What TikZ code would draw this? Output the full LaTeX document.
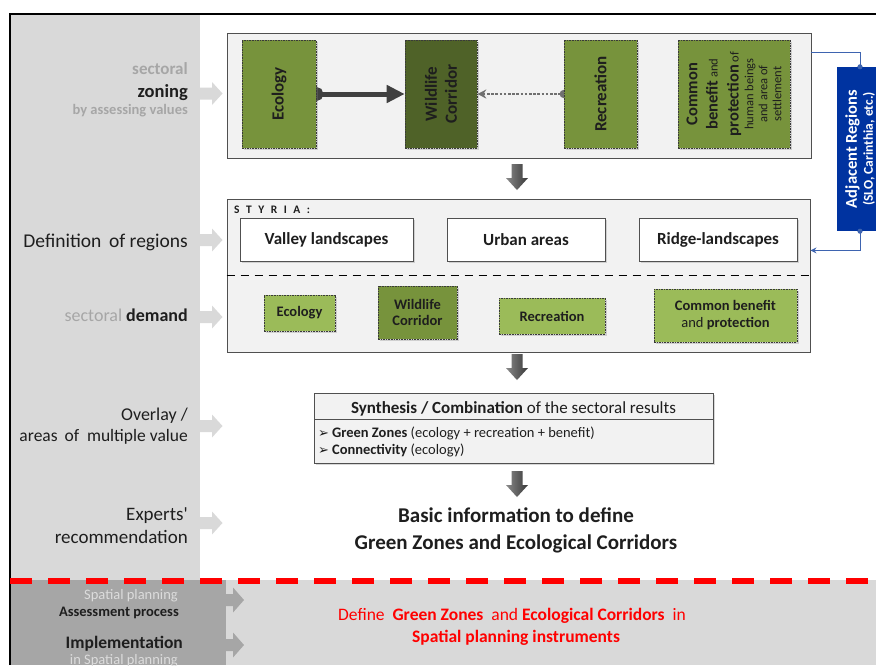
\documentclass[tikz,border=0pt]{standalone}
\usepackage{fontspec}
\setmainfont{Carlito}
\newfontfamily\symfont{DejaVu Sans}
\usetikzlibrary{arrows.meta,shadows,calc}
\pgfdeclarelayer{back}
\pgfdeclarelayer{mid}
\pgfsetlayers{back,mid,main}
\definecolor{panel}{HTML}{D9D9D9}
\definecolor{darkpanel}{HTML}{A6A6A6}
\definecolor{boxfill}{HTML}{F2F2F2}
\definecolor{boxline}{HTML}{505050}
\definecolor{gOlive}{HTML}{77933C}
\definecolor{gDark}{HTML}{4F6228}
\definecolor{gLight}{HTML}{9BBB59}
\definecolor{gborder}{HTML}{3A3A3A}
\definecolor{adjblue}{HTML}{0033A0}
\definecolor{adjc}{HTML}{3E64B0}
\definecolor{txt}{HTML}{1E1E1E}
\definecolor{graytxt}{HTML}{A6A6A6}
\definecolor{lighttxt}{HTML}{DCDCDC}
\definecolor{conn}{HTML}{404040}
\definecolor{dotc}{HTML}{707070}
\definecolor{arrL}{HTML}{8A8A8A}
\definecolor{arrR}{HTML}{383838}
\definecolor{redc}{HTML}{FF0000}
\newcommand\fsz[2]{\fontsize{#1}{#2}\selectfont}
\tikzset{
  bigbox/.style={draw=boxline, fill=boxfill, line width=0.9pt, inner sep=0pt},
  shad/.style={drop shadow={opacity=0.3, shadow xshift=1.5pt, shadow yshift=-1.5pt}},
  gbox/.style={draw=gborder, line width=0.6pt, dash pattern=on 1.6pt off 1pt, inner sep=0pt, shad, text=txt},
  wbox/.style={draw=boxline, fill=white, line width=0.9pt, inner sep=0pt, shad, text=txt, font=\bfseries\fsz{17}{20}},
  lab/.style={anchor=base east, inner sep=0pt},
  ctr/.style={anchor=base, inner sep=0pt},
  adjline/.style={draw=adjc, line width=0.9pt},
  dnarr/.pic={\shade[left color=arrL, right color=arrR] (-5.5,0) -- (5.5,0) -- (5.5,14) -- (11,14) -- (0,26) -- (-11,14) -- (-5.5,14) -- cycle;}
}
\begin{document}
\begin{tikzpicture}[x=1pt,y=-1pt]
\useasboundingbox (0,0) rectangle (876,665);
\begin{pgfonlayer}{back}
  \fill[white] (0,0) rectangle (876,665);
  \fill[panel] (11,15) rectangle (200,580);
  \fill[panel] (11,580) rectangle (876,665);
  \fill[darkpanel] (11,580) rectangle (226,665);
  \node[bigbox, minimum width=584pt, minimum height=125pt] (top) at (519,95.5) {};
  \node[bigbox, minimum width=583pt, minimum height=153pt] (mid) at (518.5,275.5) {};
\end{pgfonlayer}

% frame and red separator
\draw[line width=2pt] (10,665) -- (10,14) -- (876,14);
\draw[redc, line width=5.5pt, dash pattern=on 22pt off 16pt] (10,581) -- (876,581);

% side arrows
\foreach \yy in {93.5,240,317,426,523}
  \fill[panel] (200,{\yy-6}) -- (212,{\yy-6}) -- (212,{\yy-11.5}) -- (222.5,\yy) -- (212,{\yy+11.5}) -- (212,{\yy+6}) -- (200,{\yy+6}) -- cycle;
\foreach \yy in {600,645}
  \fill[darkpanel] (226,{\yy-6}) -- (233,{\yy-6}) -- (233,{\yy-12.5}) -- (244,\yy) -- (233,{\yy+12.5}) -- (233,{\yy+6}) -- (226,{\yy+6}) -- cycle;

% left labels
\node[lab, font=\bfseries\fsz{17}{20}, text=graytxt] at (188,74) {sectoral};
\node[lab, font=\bfseries\fsz{18.5}{20}, text=txt] at (188,97) {zoning};
\node[lab, font=\bfseries\fsz{14.5}{16}, text=graytxt] at (188,114) {by assessing values};
\node[lab, font=\fsz{19.5}{22}, text=txt] at (188,247) {Definition\ \,of regions};
\node[lab, font=\fsz{18}{22}, text=txt] at (188,321) {{\color{graytxt}sectoral} \textbf{demand}};
\node[lab, font=\fsz{18}{22}, text=txt] at (188,420) {Overlay /};
\node[lab, font=\fsz{17.5}{22}, text=txt] at (188,441) {areas\ \,of\ \ multiple value};
\node[lab, font=\fsz{19}{22}, text=txt] at (188,520) {Experts\textquotesingle};
\node[lab, font=\fsz{19}{22}, text=txt] at (188,543) {recommendation};
\node[lab, font=\fsz{14.5}{16}, text=lighttxt] at (178,599) {Spatial planning};
\node[lab, font=\bfseries\fsz{14.5}{16}, text=txt] at (179,616) {Assessment process};
\node[lab, font=\bfseries\fsz{17.5}{20}, text=txt] at (183,648) {Implementation};
\node[lab, font=\fsz{14.5}{16}, text=lighttxt] at (178,664) {in Spatial planning};

% top row boxes
\node[gbox, fill=gOlive, minimum width=74pt, minimum height=108pt] (eco) at (279,94) {};
\node[gbox, fill=gDark, minimum width=72pt, minimum height=108pt] (wild) at (441,94) {};
\node[gbox, fill=gOlive, minimum width=73pt, minimum height=108pt] (rec) at (600.5,94) {};
\node[gbox, fill=gOlive, minimum width=112pt, minimum height=108pt] (com) at (734,94) {};
\node[rotate=90, font=\bfseries\fsz{17}{19}, text=txt] at (eco) {Ecology};
\node[rotate=90, font=\bfseries\fsz{17}{20}, text=txt, align=center] at (wild) {Wildlife\\Corridor};
\node[rotate=90, font=\bfseries\fsz{17}{19}, text=txt] at (rec) {Recreation};
\node[rotate=90, font=\fsz{12.5}{14}, text=txt, align=center] at (com)
  {{\bfseries\fsz{16.5}{14}Common}\\[6.4pt]
   {\bfseries\fsz{16.5}{14}benefit} and\\[7pt]
   {\bfseries\fsz{16.5}{14}protection} of\\[0.7pt]
   human beings\\ and area of\\ settlement};

\begin{pgfonlayer}{mid}
  \draw[line width=5pt, draw=conn, {Circle[length=14pt]}-{Triangle[length=18pt,width=17pt]}, shorten <=-7pt] (eco.east) -- (wild.west);
  \draw[line width=2.8pt, draw=dotc, dash pattern=on 2.6pt off 1.6pt, {Stealth[length=9pt,width=9pt]}-{Circle[length=8pt]}, shorten >=-4pt] (wild.east) -- (rec.west);
\end{pgfonlayer}

% adjacent regions
\node[fill=adjblue, minimum width=46pt, minimum height=164pt, inner sep=0pt] (adj) at (860,149) {};
\node[rotate=90, align=center, text=white, font=\bfseries\fsz{13.5}{16}] at (adj)
  {{\fsz{16.5}{16}Adjacent Regions}\\(SLO, Carinthia, etc.)};
\draw[adjline, -{Circle[length=5pt]}, shorten >=-2.5pt] ($(top.north east)!0.16!(top.south east)$) -| (adj.north);
\draw[adjline, {Circle[length=5pt]}-{Stealth[length=6pt,width=6pt]}, shorten <=-2.5pt] (adj.south) |- ($(mid.north east)!0.337!(mid.south east)$);

% down arrows
\pic at (517,164) {dnarr};
\pic at (517,354) {dnarr};
\pic at (517,471) {dnarr};

% middle box content
\node[anchor=base west, inner sep=0pt, font=\bfseries\fsz{11.5}{13}, text=txt] (sty) at (234,213) {S\hspace{6.5pt}T\hspace{6.5pt}Y\hspace{6.5pt}R\hspace{6.5pt}I\hspace{6.5pt}A\hspace{6.5pt}:};
\node[wbox, minimum width=173pt, minimum height=43pt] (val) at (326.5,239.5) {Valley landscapes};
\node[wbox, minimum width=158pt, minimum height=43pt] (urb) at (526,239.5) {Urban areas};
\node[wbox, minimum width=158pt, minimum height=43pt] (rid) at (718,239.5) {Ridge-landscapes};
\draw[line width=1.5pt, dash pattern=on 8pt off 6pt] (mid.west) -- (mid.east);

\node[gbox, fill=gLight, minimum width=71pt, minimum height=36pt, font=\bfseries\fsz{14.5}{17}] (eco2) at (299.5,313) {Ecology};
\node[gbox, fill=gOlive, minimum width=79pt, minimum height=53pt, font=\bfseries\fsz{14.5}{16}, align=center] (wild2) at (417.5,312.5) {Wildlife\\Corridor};
\node[gbox, fill=gLight, minimum width=106pt, minimum height=36pt, font=\bfseries\fsz{14.5}{17}] (rec2) at (552,316) {Recreation};
\node[gbox, fill=gLight, minimum width=143pt, minimum height=53pt, font=\bfseries\fsz{14.5}{17}, align=center] (com2) at (725.5,315.5) {Common benefit\\{\mdseries and} protection};

% synthesis
\node[bigbox, shad, minimum width=399pt, minimum height=26pt] (synh) at (513.5,406) {};
\node[bigbox, shad, minimum width=399pt, minimum height=44pt] (synb) at (513.5,441) {};
\node[ctr, font=\fsz{17}{20}, text=txt] at (synh.center |- 0,413) {\textbf{Synthesis / Combination} of the sectoral results};
\node[anchor=base west, inner sep=0pt, font=\fsz{14.5}{16}, text=txt] at (318,437) {{\symfont\fsz{13}{14}➢}\hspace{3pt}\textbf{Green Zones} (ecology + recreation + benefit)};
\node[anchor=base west, inner sep=0pt, font=\fsz{14.5}{16}, text=txt] at (318,454) {{\symfont\fsz{13}{14}➢}\hspace{3pt}\textbf{Connectivity} (ecology)};

% result
\node[ctr, font=\bfseries\fsz{21}{25}, text=txt] (basic1) at (516,522) {Basic information to define};
\node[ctr, font=\bfseries\fsz{21}{25}, text=txt] (basic2) at (516,549) {Green Zones and Ecological Corridors};

% bottom red text
\node[ctr, font=\fsz{17.5}{20}, text=redc] (def1) at (512,620) {Define\ \ \textbf{Green Zones}\ \ and \textbf{Ecological Corridors}\ \ in};
\node[ctr, font=\bfseries\fsz{17.5}{20}, text=redc] (def2) at (516,642) {Spatial planning instruments};
\end{tikzpicture}
\end{document}
